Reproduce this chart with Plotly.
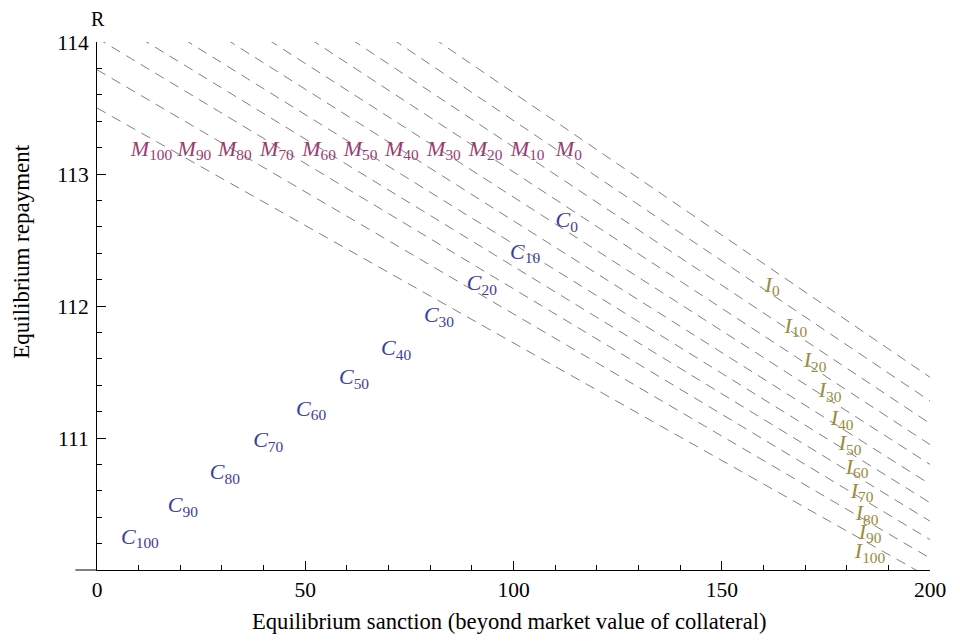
import plotly.graph_objects as go

# ---- data ----
# dashed iso-lines: value of R at s = 0 and at s = 200
R_at_s0 = [115.77, 115.53, 115.30, 115.08, 114.85, 114.64, 114.43, 114.23, 114.03, 113.79, 113.50]
R_at_s200 = [111.46, 111.28, 111.11, 110.95, 110.80, 110.65, 110.51, 110.37, 110.23, 110.09, 109.94]
s_ends = [0, 200]

# label series
label_idx = [0, 10, 20, 30, 40, 50, 60, 70, 80, 90, 100]

M_x = [113.3, 103.4, 93.3, 83.3, 73.2, 63.3, 53.3, 43.2, 33.1, 23.4, 13.1]
M_y = [113.18] * 11

C_x = [112.8, 102.8, 92.4, 82.1, 71.8, 61.7, 51.4, 41.1, 30.7, 20.6, 10.3]
C_y = [112.64, 112.40, 112.16, 111.92, 111.67, 111.45, 111.21, 110.97, 110.73, 110.48, 110.24]

I_x = [162.1, 167.8, 172.4, 176.0, 178.9, 180.8, 182.5, 183.7, 184.9, 185.6, 185.6]
I_y = [112.15, 111.84, 111.58, 111.35, 111.14, 110.95, 110.77, 110.59, 110.42, 110.28, 110.13]

x_ticks = [0, 50, 100, 150, 200]
y_ticks = [111, 112, 113, 114]

C_COLOR = "#3D3D99"
M_COLOR = "#993D71"
I_COLOR = "#998C3D"
FONT = "Liberation Serif"

fig = go.Figure()

for a, b in zip(R_at_s0, R_at_s200):
    fig.add_trace(go.Scatter(
        x=s_ends, y=[a, b], mode="lines",
        line=dict(color="#808080", width=1, dash="10px,7px"),
        hoverinfo="skip", showlegend=False))


def add_labels(xs, ys, letter, color):
    fig.add_trace(go.Scatter(
        x=xs, y=ys, mode="text",
        text=[f"<i>{letter}</i><sub>{k}</sub>" for k in label_idx],
        textposition="middle center",
        textfont=dict(family=FONT, size=22, color=color),
        hoverinfo="skip", showlegend=False, cliponaxis=False))


add_labels(M_x, M_y, "M", M_COLOR)
add_labels(C_x, C_y, "C", C_COLOR)
add_labels(I_x, I_y, "I", I_COLOR)

axis_common = dict(
    showgrid=False, zeroline=False, showline=True, linecolor="black", linewidth=1,
    ticks="inside", ticklen=9, tickwidth=1, tickcolor="black",
    tickfont=dict(family=FONT, size=21.5, color="black"),
)

fig.update_xaxes(range=[0, 200], tickmode="array", tickvals=x_ticks,
                 ticktext=[str(v) for v in x_ticks],
                 minor=dict(tick0=0, dtick=10, ticks="inside", ticklen=5,
                            tickcolor="black", tickwidth=1, showgrid=False),
                 **axis_common)
fig.update_yaxes(range=[110, 114], tickmode="array", tickvals=y_ticks,
                 ticktext=[str(v) for v in y_ticks],
                 ticklabelstandoff=3,
                 minor=dict(tick0=110, dtick=0.2, ticks="inside", ticklen=5,
                            tickcolor="black", tickwidth=1, showgrid=False),
                 **axis_common)

# the page body adds an 8px offset, so the figure is sized to compensate
fig.update_layout(
    width=952, height=633,
    margin=dict(l=89, r=30, t=34, b=71),
    plot_bgcolor="white", paper_bgcolor="white",
    font=dict(family=FONT, size=21, color="black"),
    showlegend=False,
    shapes=[dict(type="line", xref="paper", yref="paper",
                 x0=-0.026, x1=0, y0=0, y1=0,
                 line=dict(color="black", width=1))],
    annotations=[
        dict(text="R", xref="paper", yref="paper", x=0.001, y=1.043,
             showarrow=False, xanchor="center", yanchor="middle",
             font=dict(family=FONT, size=20)),
        dict(text="s", xref="paper", yref="paper", x=1.032, y=0.006,
             showarrow=False, xanchor="center", yanchor="middle",
             font=dict(family=FONT, size=21)),
        dict(text="Equilibrium repayment", xref="paper", yref="paper",
             x=-0.091, y=0.603, textangle=-90, showarrow=False,
             xanchor="center", yanchor="middle",
             font=dict(family=FONT, size=23)),
        dict(text="Equilibrium sanction (beyond market value of collateral)",
             xref="paper", yref="paper", x=0.495, y=-0.0966, showarrow=False,
             xanchor="center", yanchor="middle",
             font=dict(family=FONT, size=22.6)),
    ],
)

fig.write_html("out.html")
